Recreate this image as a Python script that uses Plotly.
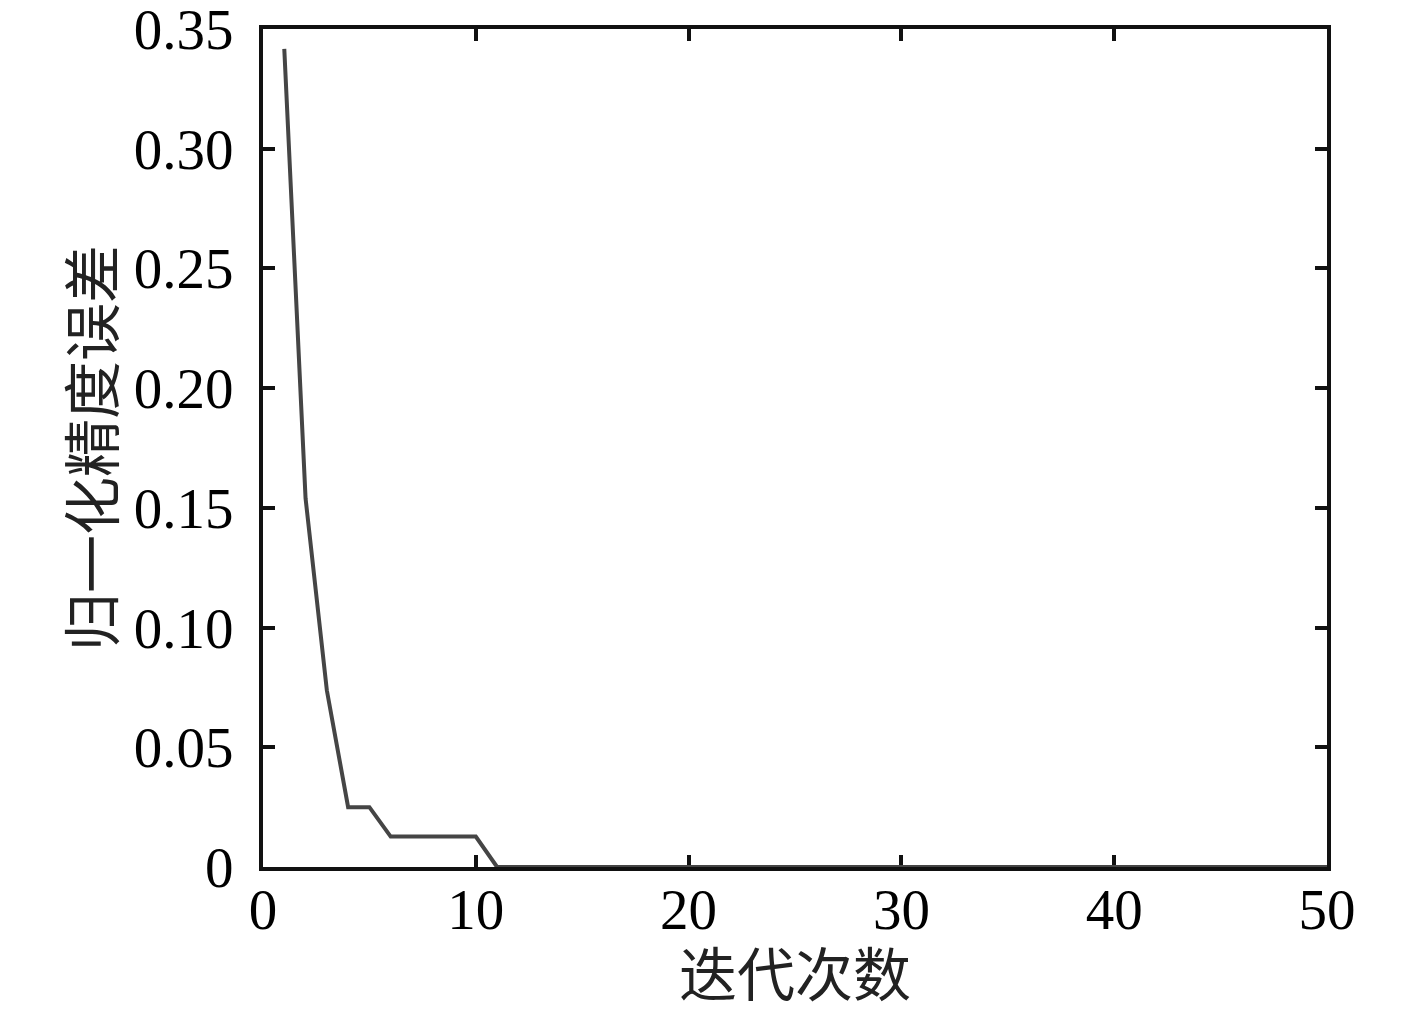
import plotly.graph_objects as go

# iteration index and normalised precision error
iterations = list(range(1, 51))
errors = [0.3417, 0.154, 0.0738, 0.025, 0.025,
          0.0127, 0.0127, 0.0127, 0.0127, 0.0127] + [0.0] * 40

x_ticks = [0, 10, 20, 30, 40, 50]
y_ticks = [0, 0.05, 0.10, 0.15, 0.20, 0.25, 0.30, 0.35]
y_tick_text = ["0", "0.05", "0.10", "0.15", "0.20", "0.25", "0.30", "0.35"]

X_TITLE = "迭代次数"
Y_TITLE = "归一化精度误差"

TICK_FONT = dict(family="Liberation Serif, Times New Roman, serif", size=57, color="black")
TITLE_FONT = dict(family="Noto Sans CJK SC", size=58, color="#222222")

fig = go.Figure()
fig.add_trace(
    go.Scatter(
        x=iterations,
        y=errors,
        mode="lines",
        line=dict(color="#454545", width=4),
        cliponaxis=False,
        showlegend=False,
    )
)

axis_common = dict(
    showline=True,
    linecolor="#111111",
    linewidth=4,
    mirror="ticks",
    ticks="inside",
    ticklen=12,
    tickwidth=4,
    tickcolor="#111111",
    showgrid=False,
    zeroline=False,
    tickfont=TICK_FONT,
    layer="below traces",
    automargin=False,
    ticklabeloverflow="allow",
)

fig.update_xaxes(
    **axis_common,
    range=[0, 50],
    tickvals=x_ticks,
    ticklabelstandoff=-10,
)
fig.update_yaxes(
    **axis_common,
    range=[0, 0.35001],
    tickvals=y_ticks,
    ticktext=y_tick_text,
    title=dict(text=Y_TITLE, font=TITLE_FONT, standoff=2),
    ticklabelstandoff=14,
)

# x title as an annotation so it can sit lower than the margin allows
fig.add_annotation(
    text=X_TITLE,
    xref="paper", yref="paper",
    x=0.5, y=0,
    xanchor="center", yanchor="middle",
    yshift=-104,
    showarrow=False,
    font=TITLE_FONT,
)

# page body adds an 8px margin, so the figure is 16px smaller than the window
fig.update_layout(
    width=1401,
    height=1000,
    margin=dict(l=255, r=82, t=21, b=141, autoexpand=False),
    paper_bgcolor="white",
    plot_bgcolor="white",
)

fig.write_html("out.html")
